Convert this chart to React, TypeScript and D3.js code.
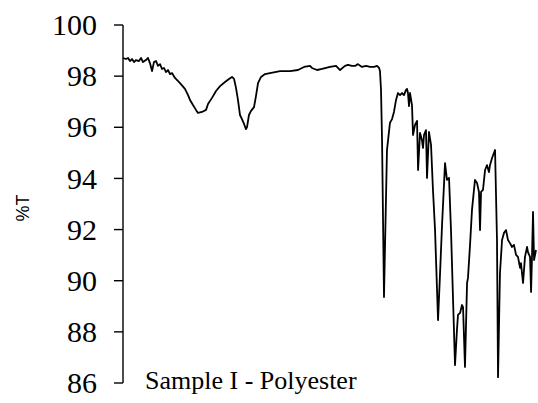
import * as d3 from 'd3';

// FTIR spectrum (wavenumber cm-1, %T)
const wavenumbers = [
  4000, 3974, 3956, 3939, 3922, 3904, 3887, 3861, 3843, 3826, 3800, 3782, 3765, 3747, 3730, 3712,
  3695, 3677, 3660, 3643, 3625, 3608, 3590, 3573, 3547, 3503, 3460, 3433, 3416, 3390, 3364, 3346,
  3311, 3276, 3259, 3224, 3189, 3154, 3111, 3076, 3050, 3032, 3015, 2998, 2980, 2963, 2945, 2928,
  2919, 2902, 2884, 2858, 2841, 2823, 2797, 2762, 2719, 2675, 2631, 2544, 2475, 2422, 2370, 2353,
  2309, 2265, 2230, 2196, 2143, 2108, 2065, 2039, 2004, 1978, 1952, 1917, 1882, 1847, 1812, 1786,
  1768, 1760, 1751, 1742, 1725, 1699, 1673, 1655, 1638, 1620, 1603, 1585, 1568, 1551, 1533, 1524,
  1516, 1507, 1498, 1481, 1472, 1455, 1437, 1428, 1411, 1394, 1385, 1376, 1359, 1350, 1333, 1315,
  1298, 1280, 1254, 1237, 1219, 1193, 1176, 1158, 1141, 1123, 1106, 1089, 1080, 1062, 1045, 1036,
  1019, 1001, 993, 975, 958, 932, 914, 897, 888, 879, 862, 844, 827, 810, 801, 783,
  757, 740, 731, 714, 696, 679, 661, 644, 627, 609, 592, 574, 557, 539, 531, 513,
  496, 478, 470, 452, 443, 435, 426, 417, 400,
];

const transmittance = [
  98.71, 98.67, 98.71, 98.59, 98.67, 98.55, 98.63, 98.59, 98.71, 98.55, 98.63, 98.71, 98.51, 98.2, 98.55, 98.59,
  98.4, 98.47, 98.28, 98.32, 98.16, 98.24, 98.08, 98.12, 97.93, 97.73, 97.5, 97.26, 97.07, 96.87, 96.68, 96.56,
  96.6, 96.68, 96.91, 97.15, 97.42, 97.61, 97.77, 97.89, 97.97, 97.89, 97.54, 97.07, 96.48, 96.32, 96.13, 95.93,
  96.01, 96.48, 96.64, 96.79, 97.22, 97.73, 97.97, 98.08, 98.12, 98.16, 98.2, 98.2, 98.24, 98.36, 98.4, 98.32,
  98.24, 98.28, 98.32, 98.36, 98.4, 98.24, 98.4, 98.44, 98.4, 98.4, 98.47, 98.36, 98.4, 98.36, 98.36, 98.4,
  98.32, 98.2, 97.46, 95.5, 89.36, 95.11, 96.17, 96.32, 96.6, 97.07, 97.34, 97.26, 97.34, 97.26, 97.46, 97.5,
  97.34, 96.83, 97.34, 96.87, 95.7, 96.09, 96.25, 94.33, 95.78, 95.5, 95.19, 95.7, 95.89, 94.02, 95.82, 95.31,
  93.55, 91.98, 88.46, 90.22, 92.18, 94.6, 93.94, 94.02, 91.98, 89.25, 86.7, 88.07, 88.66, 88.74, 89.05, 88.97,
  86.63, 89.91, 90.11, 91.4, 92.77, 93.94, 93.82, 93.47, 91.98, 93.47, 93.55, 94.33, 94.52, 94.25, 94.52, 94.8,
  95.11, 91.59, 86.23, 90.3, 91.59, 91.87, 91.98, 91.59, 91.47, 91.32, 91.4, 91.01, 90.93, 90.5, 90.69, 89.91,
  90.93, 91.32, 91.12, 90.93, 89.56, 90.93, 92.69, 90.81, 91.2,
];

const yTicks = [86, 88, 90, 92, 94, 96, 98, 100];
const sampleLabel = 'Sample I - Polyester';
const yLabel = '%T';

const W = 538;
const H = 403;
const plot = { left: 123, right: 536, top: 25, bottom: 383 };
const serif = "'Liberation Serif', 'Times New Roman', serif";

export default function App() {
  const x = d3.scaleLinear().domain([4000, 400]).range([plot.left, plot.right]);
  const y = d3.scaleLinear().domain([86, 100]).range([plot.bottom, plot.top]);

  const points: [number, number][] = wavenumbers.map((w, i) => [w, transmittance[i]]);
  const path = d3
    .line<[number, number]>()
    .x(d => x(d[0]))
    .y(d => y(d[1]))(points);

  return (
    <svg
      width={W}
      height={H}
      style={{ position: 'absolute', left: 0, top: 0, background: '#fff' }}
    >
      {/* y axis */}
      <line x1={plot.left} x2={plot.left} y1={y(100)} y2={y(86)} stroke="#000" strokeWidth={1.4} />
      {yTicks.map(t => (
        <g key={t} transform={`translate(0,${y(t)})`}>
          <line x1={plot.left - 9} x2={plot.left} stroke="#000" strokeWidth={1.4} />
          <text x={97} dy="0.34em" textAnchor="end" fontFamily={serif} fontSize={30} fill="#000">
            {t}
          </text>
        </g>
      ))}
      <text
        transform="translate(29,208) rotate(-90)"
        textAnchor="middle"
        fontFamily="'Liberation Sans', Arial, sans-serif"
        fontSize={18}
        fill="#000"
      >
        {yLabel}
      </text>

      <path d={path ?? ''} fill="none" stroke="#000" strokeWidth={1.8} strokeLinejoin="round" />

      <text x={145} y={389} fontFamily={serif} fontSize={26} fill="#000">
        {sampleLabel}
      </text>
    </svg>
  );
}
